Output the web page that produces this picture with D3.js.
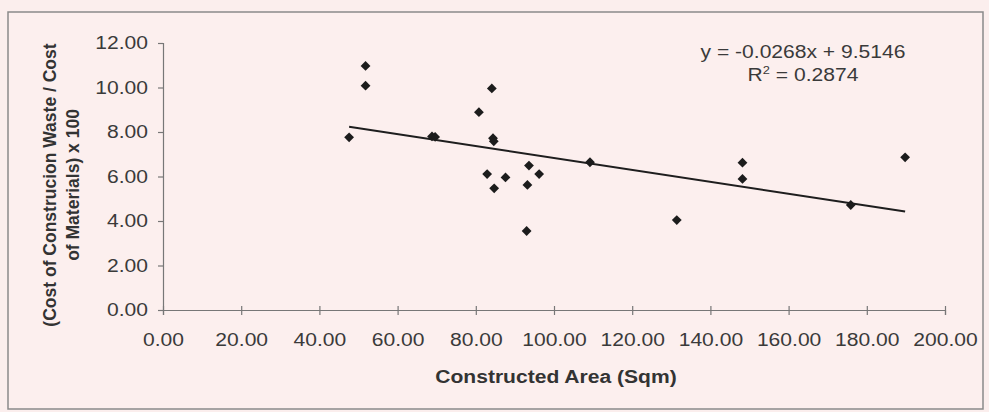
<!DOCTYPE html>
<html>
<head>
<meta charset="utf-8">
<script src="https://cdn.jsdelivr.net/npm/d3@7"></script>
<style>
  html, body { margin: 0; padding: 0; background: #fbeeed; }
  svg { display: block; font-family: "Liberation Sans", Arial, sans-serif; }
</style>
</head>
<body>
<div class="main-container"></div>
<script>
// constructed area (sqm) vs waste cost ratio
const areaSqm = [51.8, 51.8, 84.1, 80.8, 47.6, 68.8, 69.6, 84.4, 84.6, 93.6, 82.9, 87.6,
                 96.2, 84.7, 93.2, 93.0, 109.2, 148.2, 148.2, 131.4, 175.9, 189.8];
const wasteRatio = [10.97, 10.08, 9.96, 8.89, 7.76, 7.80, 7.78, 7.72, 7.58, 6.49, 6.11, 5.96,
                    6.11, 5.47, 5.62, 3.55, 6.64, 6.62, 5.89, 4.04, 4.72, 6.86];
const xTicks = [0, 20, 40, 60, 80, 100, 120, 140, 160, 180, 200];
const yTicks = [0, 2, 4, 6, 8, 10, 12];
const trendSlope = -0.0268;
const trendIntercept = 9.5146;
const rSquared = 0.2874;

const width = 989;
const height = 412;
const margin = { top: 43, right: 44, bottom: 102, left: 163 };
const stretch = 1.17; // the scanned picture is wider than tall

const svg = d3.select(".main-container")
    .append("svg")
    .attr("width", width)
    .attr("height", height);

svg.append("rect")
    .attr("x", 8).attr("y", 12)
    .attr("width", 975).attr("height", 397)
    .attr("fill", "#fcefee")
    .attr("stroke", "#8a8a8a")
    .attr("stroke-width", 1.5);

const x = d3.scaleLinear()
    .domain([0, 200])
    .range([margin.left, width - margin.right]);

const y = d3.scaleLinear()
    .domain([0, 12])
    .range([height - margin.bottom, margin.top]);

const fmt = d3.format(".2f");

// y axis
const yAxis = svg.append("g")
    .attr("transform", "translate(" + margin.left + ",0)")
    .call(d3.axisLeft(y).tickValues(yTicks).tickFormat(fmt).tickSize(5).tickPadding(10));

// x axis
const xAxis = svg.append("g")
    .attr("transform", "translate(0," + (height - margin.bottom) + ")")
    .call(d3.axisBottom(x).tickValues(xTicks).tickFormat(fmt).tickSize(5).tickPadding(18));

[yAxis, xAxis].forEach(a => {
    a.select(".domain").attr("stroke", "#777").attr("stroke-width", 1.2);
    a.selectAll(".tick line").attr("stroke", "#777").attr("stroke-width", 1.2);
    a.selectAll(".tick text")
        .attr("fill", "#3a3a3a")
        .style("font-size", "18px");
});
xAxis.selectAll(".tick line").attr("y1", -4);

// trend line over the data range
const xExt = d3.extent(areaSqm);
const line = d3.line()
    .x(d => x(d))
    .y(d => y(trendSlope * d + trendIntercept));

svg.append("path")
    .datum(xExt)
    .attr("d", line)
    .attr("fill", "none")
    .attr("stroke", "#1e1e1e")
    .attr("stroke-width", 2);

// points
svg.append("g")
    .selectAll("path")
    .data(areaSqm.map((a, i) => [a, wasteRatio[i]]))
    .enter()
    .append("path")
    .attr("d", d3.symbol().type(d3.symbolSquare).size(48))
    .attr("transform", d => "translate(" + x(d[0]) + "," + y(d[1]) + ") rotate(45)")
    .attr("fill", "#1c1c1c");

// equation label
const eq = svg.append("g")
    .attr("fill", "#3a3a3a")
    .style("font-size", "18px")
    .attr("text-anchor", "middle");

eq.append("text")
    .attr("class", "stretch")
    .attr("x", 803).attr("y", 58)
    .text("y = " + trendSlope.toFixed(4) + "x + " + trendIntercept.toFixed(4));

const r2 = eq.append("text")
    .attr("class", "stretch")
    .attr("x", 803).attr("y", 81);
r2.append("tspan").text("R");
r2.append("tspan").attr("dy", -7).style("font-size", "11px").text("2");
r2.append("tspan").attr("dy", 7).text(" = " + rSquared.toFixed(4));

// axis titles
svg.append("text")
    .attr("class", "stretch")
    .attr("x", 556).attr("y", 383)
    .attr("text-anchor", "middle")
    .attr("fill", "#333")
    .style("font-size", "18px")
    .style("font-weight", "bold")
    .text("Constructed Area (Sqm)");

const yTitle = svg.append("text")
    .attr("transform", "translate(56,185) rotate(-90)")
    .attr("text-anchor", "middle")
    .attr("fill", "#333")
    .style("font-size", "17.5px")
    .style("font-weight", "bold");
yTitle.append("tspan").attr("x", 0).attr("dy", 0).text("(Cost of Construcion Waste / Cost");
yTitle.append("tspan").attr("x", 0).attr("dy", 23).text("of Materials) x 100");

// widen the horizontal texts like the scan
svg.selectAll(".tick text, text.stretch").each(function () {
    const w = this.getComputedTextLength();
    d3.select(this)
        .attr("textLength", w * stretch)
        .attr("lengthAdjust", "spacingAndGlyphs");
});
</script>
</body>
</html>
